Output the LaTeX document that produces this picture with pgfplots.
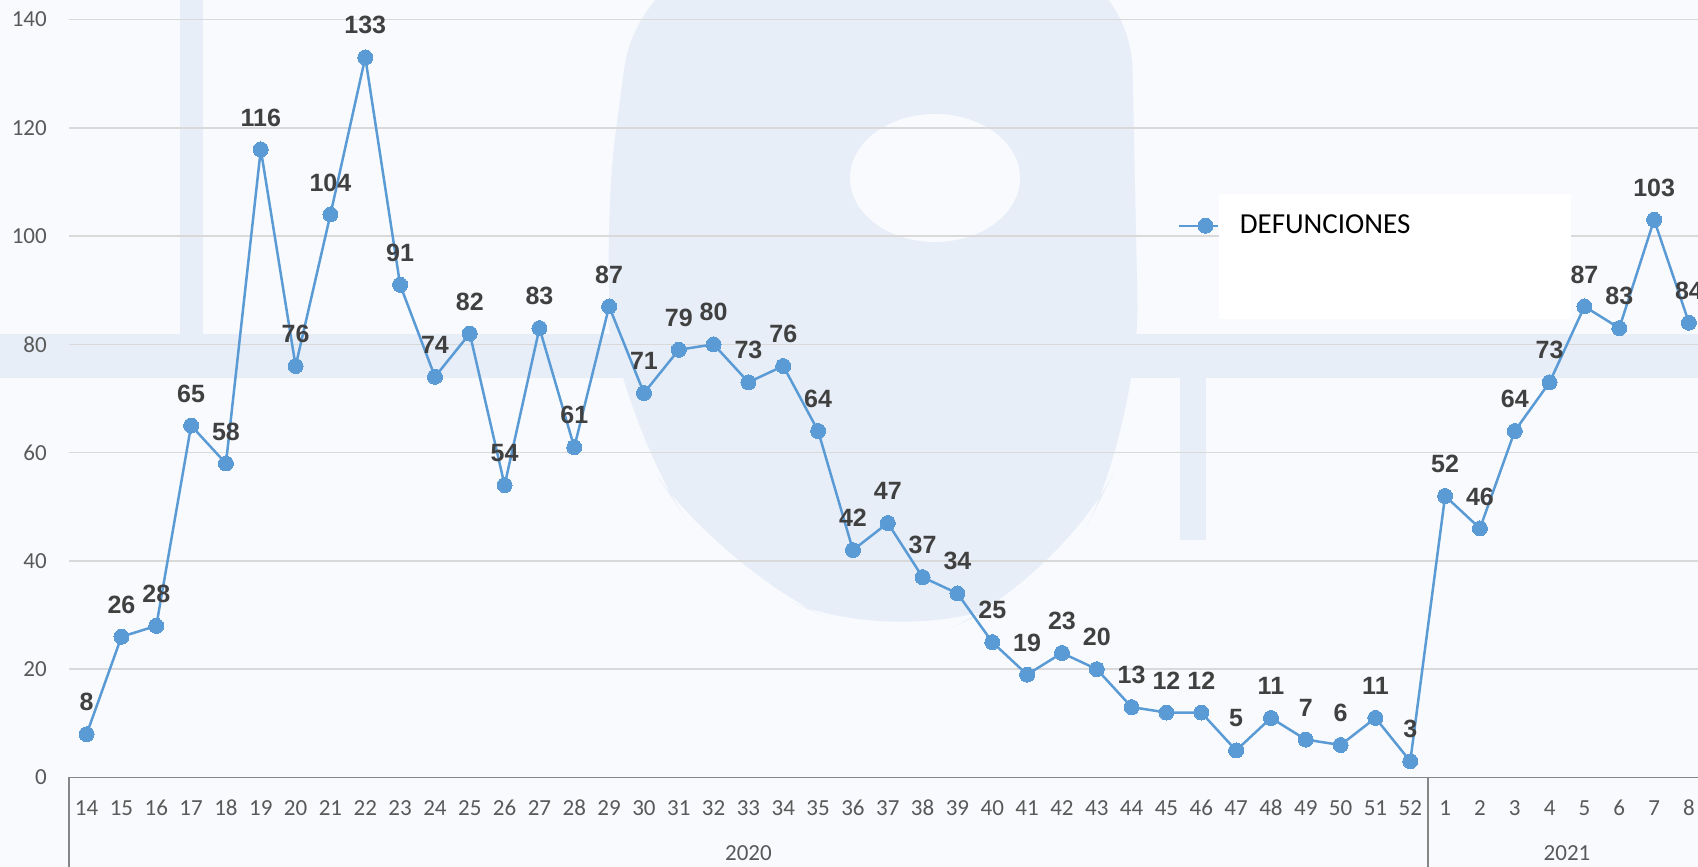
\documentclass[border=0pt]{standalone}
\usepackage{fontspec}
\setmainfont{Carlito}
\newfontfamily\arialfont{Liberation Sans}
\usepackage{pgfplots}
\pgfplotsset{compat=1.18}
\definecolor{serie}{HTML}{5B9BD5}
\definecolor{etiq}{HTML}{404040}
\definecolor{ticks}{HTML}{595959}
\definecolor{rejilla}{HTML}{D9D9D9}
\definecolor{eje}{HTML}{868686}
\definecolor{fondo}{HTML}{F8FAFD}
\definecolor{marca}{HTML}{E7EEF8}

\begin{document}
\begin{tikzpicture}
% lienzo: 1 px = 0.5pt
\useasboundingbox (0,0) rectangle (849pt,433.5pt);
\clip (0,0) rectangle (849pt,433.5pt);
\fill[fondo] (0,0) rectangle (849pt,433.5pt);
% marca de agua aproximada
\begin{scope}[x=0.5pt,y=-0.5pt,shift={(0,433.5pt)}]
  \fill[marca, rounded corners=60pt] (640,-50) -- (1130,-50) -- (1140,420) -- (1060,580) -- (900,650) -- (720,570) -- (620,420) -- (600,250) -- cycle;
  \fill[fondo] (935,178) ellipse (85 and 64);
  \fill[marca] (0,334) rectangle (1698,378);
  \fill[marca] (180,0) rectangle (203,334);
  \fill[marca] (1180,378) rectangle (1206,540);
\end{scope}
\begin{axis}[
  at={(34.6pt,44.75pt)}, anchor=south west,
  scale only axis, width=814.4pt, height=379pt,
  xmin=-0.5, xmax=46.26, ymin=0, ymax=140,
  clip=false,
  axis line style={draw=none},
  tick style={draw=none},
  ymajorgrids, grid style={rejilla, line width=0.75pt},
  ytick={0,20,...,140},
  xtick={0,...,46},
  xticklabels={14,15,16,17,18,19,20,21,22,23,24,25,26,27,28,29,30,31,32,33,34,35,36,37,38,39,40,41,42,43,44,45,46,47,48,49,50,51,52,1,2,3,4,5,6,7,8},
  /pgf/number format/assume math mode=true,
  tick label style={font=\fontsize{11.5}{13}\selectfont, text=ticks, inner sep=0pt},
  yticklabel style={anchor=east, xshift=-11pt},
  xticklabel style={anchor=center, yshift=-15.3pt},
  legend style={at={(axis cs:31.30,101.9)}, anchor=west, draw=none, fill=none,
    inner sep=0pt, font=\fontsize{14.5}{17}\selectfont, text=black,
    nodes={inner sep=0pt}},
  legend image code/.code={
    \draw[#1,mark=none] (0pt,0pt) -- (19.5pt,0pt);
    \draw[#1,mark repeat=2,mark phase=2] plot coordinates {(0pt,0pt) (13.5pt,0pt) (19.5pt,0pt)};
  },
]
\fill[white] (axis cs:32.51,84.7) rectangle (axis cs:42.62,107.8);
\addplot[serie, line width=1.25pt, mark=*, mark size=3.75pt,
  mark options={fill=serie, draw=serie, line width=0pt},
  nodes near coords,
  every node near coord/.append style={font=\arialfont\bfseries\fontsize{12.5}{14}\selectfont,
    text=etiq, anchor=center, yshift=16pt, inner sep=0pt}]
coordinates {
(0,8) (1,26) (2,28) (3,65) (4,58) (5,116) (6,76) (7,104) (8,133) (9,91)
(10,74) (11,82) (12,54) (13,83) (14,61) (15,87) (16,71) (17,79) (18,80) (19,73)
(20,76) (21,64) (22,42) (23,47) (24,37) (25,34) (26,25) (27,19) (28,23) (29,20)
(30,13) (31,12) (32,12) (33,5) (34,11) (35,7) (36,6) (37,11) (38,3)
(39,52) (40,46) (41,64) (42,73) (43,87) (44,83) (45,103) (46,84)
};
\addlegendentry{\hspace{10.5pt}DEFUNCIONES}
\draw[eje, line width=0.9pt] (axis cs:-0.5,0) -- (axis cs:46.5,0);
\draw[eje, line width=0.9pt] (axis cs:-0.5,0) -- ++(0pt,-60pt);
\draw[eje, line width=0.9pt] (axis cs:38.5,0) -- ++(0pt,-60pt);
\node[font=\fontsize{11.5}{13}\selectfont, text=ticks, inner sep=0pt] at (axis cs:19,0) [yshift=-37.75pt] {2020};
\node[font=\fontsize{11.5}{13}\selectfont, text=ticks, inner sep=0pt] at (axis cs:42.5,0) [yshift=-37.75pt] {2021};
\end{axis}
\end{tikzpicture}
\end{document}
